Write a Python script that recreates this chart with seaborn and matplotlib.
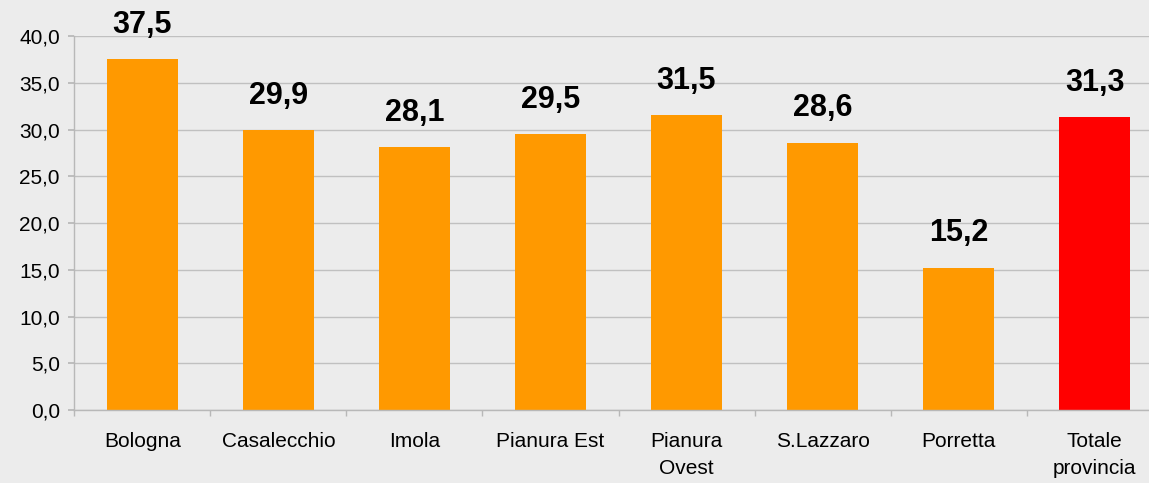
import matplotlib
matplotlib.use("Agg")
import matplotlib.pyplot as plt
import seaborn as sns
import numpy as np
from matplotlib.ticker import FuncFormatter, FixedLocator

# data
categories = ["Bologna", "Casalecchio", "Imola", "Pianura Est", "Pianura\nOvest",
              "S.Lazzaro", "Porretta", "Totale\nprovincia"]
values = [37.5, 29.9, 28.1, 29.5, 31.5, 28.6, 15.2, 31.3]
bar_colors = ["#FF9900"] * 7 + ["#FF0000"]

sns.set_theme(style="white")
plt.rcParams['font.family'] = ['Liberation Sans', 'DejaVu Sans']

fig = plt.figure(figsize=(11.49, 4.83), dpi=100)
fig.patch.set_facecolor("#ececec")
ax = fig.add_axes([0.0648, 0.151, 0.947, 0.7745])
ax.set_facecolor("#ececec")

sns.barplot(x=categories, y=values, hue=categories, palette=bar_colors,
            legend=False, width=0.52, saturation=1, linewidth=0, ax=ax)

ax.set_ylim(0, 40)
ax.set_xlim(-0.5, 7.5)
ax.set_yticks(np.arange(0, 41, 5))
ax.yaxis.set_major_formatter(FuncFormatter(lambda v, p: f"{v:.1f}".replace(".", ",")))
ax.grid(axis="y", color="#c0c0c0", linewidth=1)
ax.set_axisbelow(True)

for s in ["top", "right"]:
    ax.spines[s].set_visible(False)
for s in ["left", "bottom"]:
    ax.spines[s].set_color("#b8b8b8")
    ax.spines[s].set_linewidth(1)

ax.xaxis.set_minor_locator(FixedLocator(np.arange(-0.5, 8, 1)))
ax.tick_params(axis="x", which="major", length=0, pad=16, labelsize=15, labelcolor="black")
ax.tick_params(axis="x", which="minor", length=4.5, color="#b8b8b8", bottom=True)
ax.tick_params(axis="y", length=4.5, color="#b8b8b8", left=True, labelsize=15,
               labelcolor="black", pad=6)
for lbl in ax.get_xticklabels():
    lbl.set_linespacing(1.5)
ax.set_xlabel("")
ax.set_ylabel("")

for i, v in enumerate(values):
    ax.annotate(f"{v:.1f}".replace(".", ","), (i, v), xytext=(0, 14),
                textcoords="offset points", ha="center", va="bottom",
                fontsize=22, fontweight="bold", color="black")

fig.savefig("out.png", dpi=100, facecolor=fig.get_facecolor())
